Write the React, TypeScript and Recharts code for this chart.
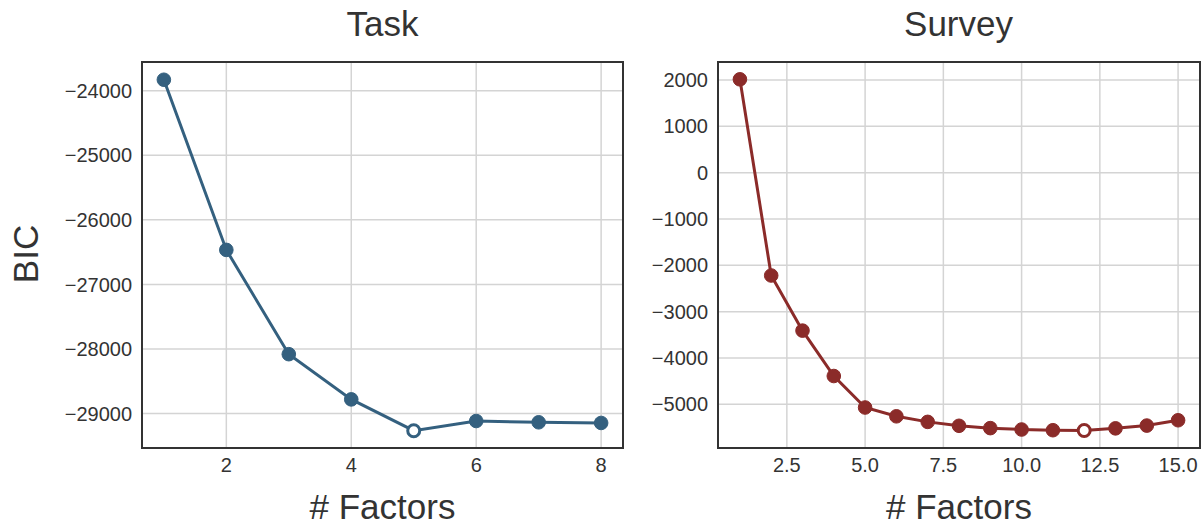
import React from "react";
import { LineChart, Line, XAxis, YAxis, CartesianGrid, ReferenceArea } from "recharts";

const taskFactors = [1, 2, 3, 4, 5, 6, 7, 8];
const taskBIC = [-23830, -26465, -28080, -28780, -29265, -29115, -29135, -29145];
const taskBest = 5;
const taskYTicks = [-29000, -28000, -27000, -26000, -25000, -24000];
const taskXTicks = [2, 4, 6, 8];
const taskXDomain = [0.65, 8.35];
const taskYDomain = [-29533, -23555];

const surveyFactors = [1, 2, 3, 4, 5, 6, 7, 8, 9, 10, 11, 12, 13, 14, 15];
const surveyBIC = [2015, -2220, -3410, -4390, -5070, -5260, -5380, -5465, -5515, -5545, -5560, -5565, -5520, -5460, -5345];
const surveyBest = 12;
const surveyYTicks = [-5000, -4000, -3000, -2000, -1000, 0, 1000, 2000];
const surveyXTicks = [2.5, 5, 7.5, 10, 12.5, 15];
const surveyXDomain = [0.3, 15.7];
const surveyYDomain = [-5944, 2389];

const FONT = "'Liberation Sans', Arial, sans-serif";
const TEXT = "#333333";
const GRID = "#d4d4d4";
const BLUE = "#34607f";
const RED = "#8b2b29";

const taskData = taskFactors.map((x, i) => ({ x, y: taskBIC[i] }));
const surveyData = surveyFactors.map((x, i) => ({ x, y: surveyBIC[i] }));

const fmtNum = (v: number) => (v < 0 ? "\u2212" + Math.abs(v) : String(v));

function makeDot(color: string, best: number) {
  return (p: any) => {
    const open = p.payload.x === best;
    return (
      <circle
        key={"d" + p.index}
        cx={p.cx}
        cy={p.cy}
        r={open ? 6 : 6.8}
        fill={open ? "#ffffff" : color}
        stroke={color}
        strokeWidth={open ? 3 : 1}
      />
    );
  };
}

const tickStyle = { fontSize: 20, fill: TEXT, fontFamily: FONT };
const labelStyle = { fontSize: 35, fill: TEXT, fontFamily: FONT };

export default function App() {
  return (
    <div style={{ position: "absolute", left: 0, top: 0, width: 1204, height: 525, background: "#fff", fontFamily: FONT }}>
      <div style={{ position: "absolute", left: 142, width: 481, top: 4, textAlign: "center", fontSize: 35, lineHeight: "40px", color: TEXT }}>Task</div>
      <div style={{ position: "absolute", left: 718, width: 481, top: 4, textAlign: "center", fontSize: 35, lineHeight: "40px", color: TEXT }}>Survey</div>

      <div style={{ position: "absolute", left: 0, top: 0 }}>
        <LineChart width={640} height={525} data={taskData} margin={{ top: 62, right: 17, bottom: 0, left: 0 }} style={{ fontFamily: FONT }}>
          <CartesianGrid stroke={GRID} strokeWidth={1.5} />
          <XAxis
            dataKey="x"
            type="number"
            domain={taskXDomain}
            ticks={taskXTicks}
            allowDataOverflow
            axisLine={false}
            tickLine={false}
            tickSize={6}
            tickMargin={4}
            height={77}
            tick={tickStyle}
            label={{ value: "# Factors", position: "insideBottom", offset: 6, style: labelStyle }}
          />
          <YAxis
            dataKey="y"
            type="number"
            domain={taskYDomain}
            ticks={taskYTicks}
            allowDataOverflow
            axisLine={false}
            tickLine={false}
            tickSize={8}
            tickMargin={2}
            width={142}
            tick={tickStyle}
            tickFormatter={fmtNum}
            label={{
              content: () => (
                <text x={38} y={254} transform="rotate(-90 38 254)" textAnchor="middle" fontSize={35} fill={TEXT} fontFamily={FONT}>
                  BIC
                </text>
              ),
            }}
          />
          <ReferenceArea
            x1={taskXDomain[0]}
            x2={taskXDomain[1]}
            y1={taskYDomain[0]}
            y2={taskYDomain[1]}
            fill="#ffffff"
            fillOpacity={0}
            stroke={TEXT}
            strokeOpacity={1}
            strokeWidth={2}
            ifOverflow="visible"
          />
          <Line dataKey="y" stroke={BLUE} strokeWidth={3} isAnimationActive={false} dot={makeDot(BLUE, taskBest)} />
        </LineChart>
      </div>

      <div style={{ position: "absolute", left: 640, top: 0 }}>
        <LineChart width={564} height={525} data={surveyData} margin={{ top: 62, right: 4, bottom: 0, left: 0 }} style={{ fontFamily: FONT }}>
          <CartesianGrid stroke={GRID} strokeWidth={1.5} />
          <XAxis
            dataKey="x"
            type="number"
            domain={surveyXDomain}
            ticks={surveyXTicks}
            allowDataOverflow
            axisLine={false}
            tickLine={false}
            tickSize={6}
            tickMargin={4}
            height={77}
            tick={tickStyle}
            tickFormatter={(v: number) => v.toFixed(1)}
            label={{ value: "# Factors", position: "insideBottom", offset: 6, style: labelStyle }}
          />
          <YAxis
            dataKey="y"
            type="number"
            domain={surveyYDomain}
            ticks={surveyYTicks}
            allowDataOverflow
            axisLine={false}
            tickLine={false}
            tickSize={8}
            tickMargin={2}
            width={78}
            tick={tickStyle}
            tickFormatter={fmtNum}
          />
          <ReferenceArea
            x1={surveyXDomain[0]}
            x2={surveyXDomain[1]}
            y1={surveyYDomain[0]}
            y2={surveyYDomain[1]}
            fill="#ffffff"
            fillOpacity={0}
            stroke={TEXT}
            strokeOpacity={1}
            strokeWidth={2}
            ifOverflow="visible"
          />
          <Line dataKey="y" stroke={RED} strokeWidth={3} isAnimationActive={false} dot={makeDot(RED, surveyBest)} />
        </LineChart>
      </div>
    </div>
  );
}
